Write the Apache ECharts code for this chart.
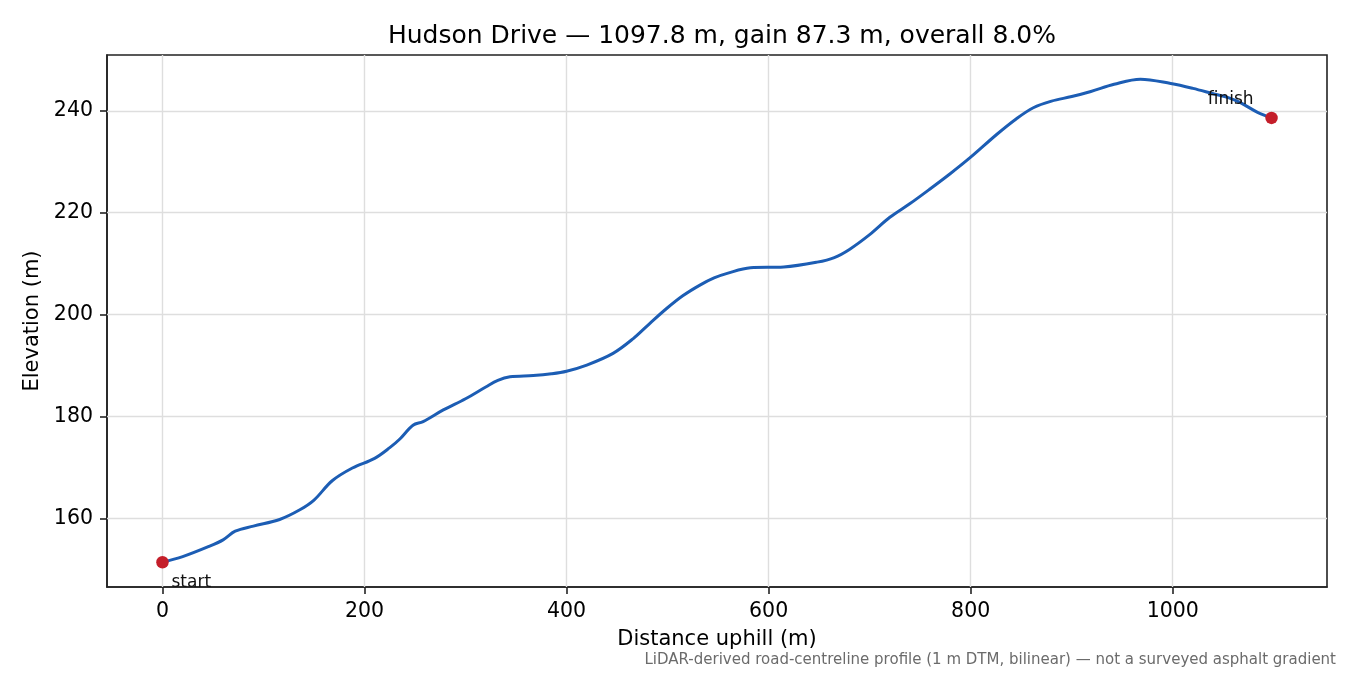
<!DOCTYPE html>
<html>
<head>
<meta charset="utf-8">
<script src="https://cdn.jsdelivr.net/npm/echarts@6/dist/echarts.min.js"></script>
<style>
html,body{margin:0;padding:0;background:#fff;}
#chart{width:1350px;height:675px;}
</style>
</head>
<body>
<div id="chart"></div>
<script>
const distance = [0,20,46,60,72,90,116,136,150,168,188,210,225,235,248,258,278,300,320,332,344,367,385,400,420,446,466,482,499,515,532,546,559,582,615,648,665,680,700,720,740,760,780,800,826,845,862,880,900,919,942,968,998,1020,1041,1055,1067,1084,1097.8];
const elevation = [151.4,152.5,154.5,155.8,157.5,158.5,159.8,161.7,163.6,167.4,169.9,171.8,173.9,175.6,178.3,179.0,181.3,183.5,185.8,187.1,187.8,188.05,188.4,188.9,190.1,192.4,195.3,198.2,201.2,203.7,205.8,207.2,208.1,209.2,209.35,210.3,211.2,212.8,215.7,219.1,221.8,224.7,227.7,230.9,235.4,238.4,240.6,241.9,242.8,243.8,245.2,246.2,245.35,244.4,243.3,242.6,241.6,239.7,238.6];
const xTicks = [0,200,400,600,800,1000];
const yTicks = [160,180,200,220,240];
const endpointNames = ['start','finish'];
const titleText = 'Hudson Drive \u2014 1097.8 m, gain 87.3 m, overall 8.0%';
const footnote = 'LiDAR-derived road-centreline profile (1 m DTM, bilinear) \u2014 not a surveyed asphalt gradient';

const FONT = 'DejaVu Sans';
const profile = distance.map((d, i) => [d, elevation[i]]);
const last = distance.length - 1;
const endpoints = [
  {name: endpointNames[0], value: [distance[0], elevation[0]],
   label: {align: 'left', offset: [9, 20]}},
  {name: endpointNames[1], value: [distance[last], elevation[last]],
   label: {align: 'right', offset: [-18, -18]}}
];
const gridLines = xTicks.map(v => ({xAxis: v})).concat(yTicks.map(v => ({yAxis: v})));

const chart = echarts.init(document.getElementById('chart'), null, {renderer: 'canvas'});
chart.setOption({
  animation: false,
  backgroundColor: '#ffffff',
  textStyle: {fontFamily: FONT},
  title: {
    text: titleText,
    left: 717, top: 19, textAlign: 'center',
    textStyle: {fontFamily: FONT, fontSize: 25, fontWeight: 'normal', color: '#000'}
  },
  graphic: [
    {type: 'text', right: 14, top: 653, z: 10,
     style: {text: footnote, fill: '#6b6b6b', font: '15px "DejaVu Sans"', textAlign: 'right'}}
  ],
  grid: {left: 107, right: 23, top: 55, bottom: 88, show: true,
         borderColor: '#222', borderWidth: 1.6, backgroundColor: 'transparent'},
  xAxis: {
    type: 'value', min: -54.9, max: 1152.7,
    name: 'Distance uphill (m)', nameLocation: 'middle', nameGap: 42,
    nameTextStyle: {fontFamily: FONT, fontSize: 21, color: '#000'},
    axisLine: {show: true, onZero: false, lineStyle: {color: '#222', width: 1.6}},
    axisTick: {show: true, customValues: xTicks, length: 7, lineStyle: {color: '#222', width: 1.6}},
    axisLabel: {customValues: xTicks, color: '#000', fontSize: 20.5, fontFamily: FONT, margin: 14,
                formatter: v => String(v)},
    splitLine: {show: false}
  },
  yAxis: {
    type: 'value', min: 146.55, max: 250.95,
    name: 'Elevation (m)', nameLocation: 'middle', nameGap: 62, nameRotate: 90,
    nameTextStyle: {fontFamily: FONT, fontSize: 21, color: '#000'},
    axisLine: {show: true, onZero: false, lineStyle: {color: '#222', width: 1.6}},
    axisTick: {show: true, customValues: yTicks, length: 7, lineStyle: {color: '#222', width: 1.6}},
    axisLabel: {customValues: yTicks, color: '#000', fontSize: 20.5, fontFamily: FONT, margin: 14,
                formatter: v => String(v)},
    splitLine: {show: false}
  },
  series: [
    {
      type: 'line', data: [], z: 1, silent: true,
      markLine: {
        silent: true, symbol: ['none', 'none'], animation: false, z: 1,
        label: {show: false},
        lineStyle: {color: '#dedede', width: 1.4, type: 'solid'},
        emphasis: {disabled: true},
        data: gridLines
      }
    },
    {
      type: 'line', data: profile, z: 3,
      smooth: 0.35, showSymbol: false,
      lineStyle: {color: '#1c5db4', width: 3},
      itemStyle: {color: '#1c5db4'}
    },
    {
      type: 'scatter', data: endpoints, z: 4,
      symbolSize: 12.5,
      itemStyle: {color: '#c41e2a', opacity: 1},
      label: {
        show: true, position: 'inside', verticalAlign: 'middle',
        formatter: '{b}', color: '#111', fontSize: 17, fontFamily: FONT
      }
    }
  ]
});
</script>
</body>
</html>
